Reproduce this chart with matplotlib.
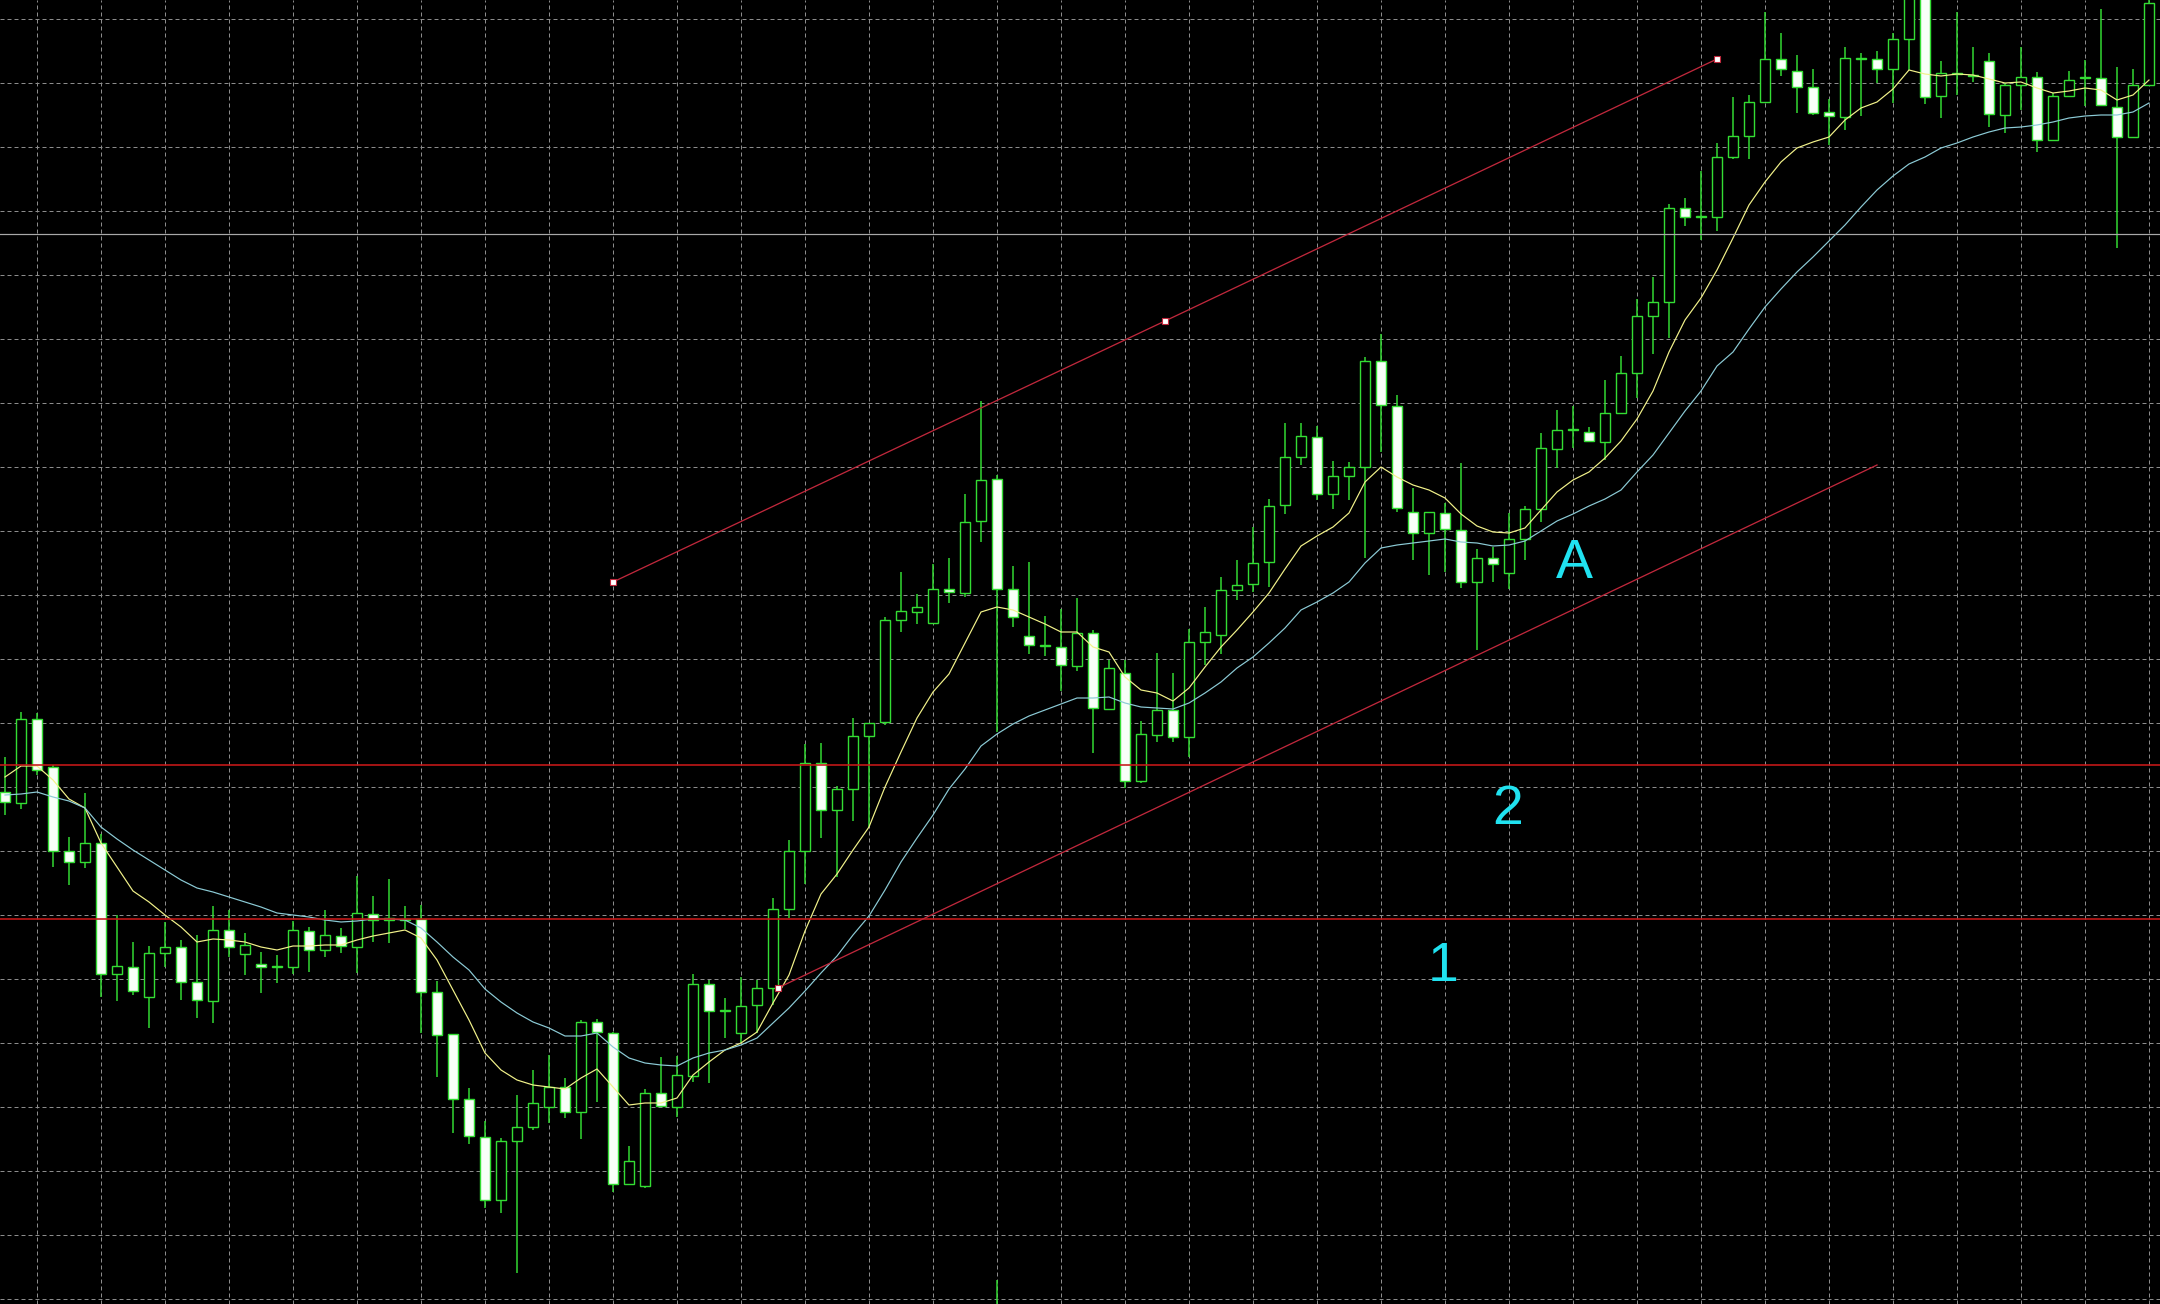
import matplotlib
matplotlib.use("Agg")
import matplotlib.pyplot as plt
import numpy as np

# price in points; one candle per bar index
opens = [507, 496, 580, 532, 448, 437, 456, 325, 332, 302,
         346, 352, 317, 298, 369, 345, 335, 332, 332, 368,
         349, 363, 352, 385, 379, 380, 380, 307, 265, 200,
         162, 99, 158, 172, 192, 212, 187, 277, 266, 115,
         113, 206, 192, 223, 315, 288, 266, 294, 311, 390,
         448, 536, 489, 510, 563, 577, 679, 687, 676, 710,
         706, 778, 820, 710, 663, 653, 652, 633, 666, 590,
         626, 518, 564, 589, 562, 657, 664, 709, 715, 737,
         794, 842, 862, 805, 823, 832, 938, 893, 787, 766,
         786, 769, 717, 741, 726, 760, 790, 850, 869, 867,
         857, 886, 926, 983, 997, 1091, 1082, 1082, 1142, 1163,
         1197, 1240, 1228, 1212, 1187, 1182, 1240, 1240, 1230, 1260,
         1304, 1203, 1225, 1223, 1238, 1184, 1214, 1222, 1159, 1203,
         1221, 1221, 1192, 1162, 1214]
highs = [542, 587, 586, 534, 462, 506, 465, 384, 357, 353,
         377, 359, 364, 393, 389, 366, 347, 344, 378, 372,
         389, 371, 423, 403, 420, 393, 394, 318, 265, 211,
         178, 161, 204, 229, 244, 221, 279, 280, 267, 153,
         210, 242, 243, 325, 319, 301, 322, 319, 401, 459,
         555, 556, 513, 581, 576, 682, 727, 705, 735, 741,
         805, 898, 824, 733, 737, 683, 690, 701, 669, 639,
         639, 578, 646, 626, 670, 692, 722, 739, 772, 800,
         876, 876, 873, 838, 837, 942, 965, 904, 811, 787,
         796, 836, 750, 752, 786, 793, 866, 889, 893, 872,
         919, 943, 1000, 1022, 1095, 1101, 1128, 1156, 1202, 1204,
         1287, 1266, 1244, 1230, 1200, 1252, 1246, 1248, 1266, 1319,
         1309, 1238, 1287, 1252, 1246, 1216, 1252, 1227, 1206, 1228,
         1239, 1290, 1232, 1230, 1309]
lows = [484, 490, 524, 432, 414, 431, 302, 298, 304, 271,
        332, 299, 281, 276, 342, 324, 306, 316, 325, 327,
        342, 346, 326, 357, 356, 370, 266, 222, 166, 155,
        91, 86, 26, 169, 176, 181, 160, 197, 107, 115,
        111, 192, 182, 217, 216, 261, 256, 266, 294, 381,
        415, 461, 422, 478, 472, 574, 667, 675, 676, 696,
        702, 757, 567, 672, 645, 643, 608, 628, 546, 589,
        511, 516, 557, 557, 542, 634, 645, 699, 707, 712,
        785, 834, 799, 790, 799, 741, 847, 787, 739, 724,
        727, 711, 649, 717, 710, 739, 777, 831, 851, 858,
        839, 885, 901, 945, 961, 1073, 1059, 1068, 1140, 1140,
        1197, 1223, 1186, 1184, 1154, 1169, 1183, 1216, 1196, 1229,
        1195, 1181, 1204, 1217, 1172, 1166, 1189, 1147, 1159, 1202,
        1193, 1193, 1051, 1162, 1214]
closes = [497, 580, 529, 448, 437, 456, 325, 333, 308, 346,
          352, 317, 299, 369, 352, 354, 332, 333, 369, 349,
          364, 353, 386, 379, 381, 379, 307, 264, 200, 163,
          99, 158, 172, 196, 212, 187, 277, 267, 115, 138,
          206, 193, 224, 315, 288, 289, 293, 311, 390, 448,
          536, 489, 510, 563, 576, 679, 688, 692, 710, 707,
          777, 819, 710, 682, 654, 654, 634, 666, 591, 631,
          518, 565, 589, 562, 657, 667, 709, 714, 736, 793,
          842, 863, 805, 823, 832, 938, 894, 791, 766, 787,
          770, 717, 741, 735, 760, 790, 851, 869, 870, 858,
          886, 926, 983, 997, 1091, 1082, 1083, 1142, 1163, 1197,
          1240, 1230, 1212, 1186, 1183, 1241, 1241, 1230, 1260, 1304,
          1202, 1226, 1226, 1224, 1185, 1214, 1222, 1159, 1203, 1219,
          1222, 1194, 1162, 1214, 1296]

# moving averages
ma_fast = [522, 533, 533, 519, 500, 491, 456, 432, 408, 397,
           384, 372, 357, 360, 359, 357, 352, 349, 353, 353,
           354, 354, 359, 363, 366, 369, 361, 339, 309, 279,
           246, 229, 219, 214, 212, 210, 221, 230, 212, 194,
           196, 196, 201, 224, 237, 249, 256, 267, 296, 324,
           368, 405, 425, 449, 472, 512, 547, 581, 607, 625,
           656, 687, 692, 689, 682, 675, 667, 667, 652, 647,
           622, 609, 606, 598, 611, 632, 652, 669, 687, 706,
           730, 753, 763, 772, 786, 817, 832, 822, 814, 809,
           801, 785, 773, 767, 766, 771, 789, 807, 819, 827,
           841, 858, 880, 908, 947, 979, 1001, 1029, 1061, 1094,
           1117, 1137, 1151, 1157, 1162, 1179, 1191, 1197, 1210, 1229,
           1225, 1223, 1225, 1224, 1220, 1216, 1217, 1211, 1206, 1208,
           1211, 1209, 1199, 1204, 1219]
ma_slow = [504, 505, 507, 502, 498, 491, 472, 460, 449, 439,
           429, 419, 411, 407, 402, 397, 392, 386, 384, 382,
           379, 377, 378, 380, 380, 379, 371, 357, 342, 329,
           310, 297, 286, 277, 271, 263, 263, 266, 252, 241,
           236, 234, 233, 241, 246, 249, 254, 261, 276, 291,
           308, 326, 343, 364, 383, 409, 437, 461, 484, 510,
           530, 553, 565, 575, 583, 589, 595, 601, 601, 602,
           596, 592, 591, 590, 596, 606, 617, 631, 642, 656,
           671, 689, 697, 706, 717, 736, 751, 754, 756, 758,
           760, 757, 756, 753, 754, 758, 768, 778, 785, 793,
           800, 809, 827, 844, 866, 888, 908, 933, 947, 970,
           992, 1010, 1027, 1042, 1058, 1074, 1092, 1109, 1123, 1135,
           1142, 1151, 1156, 1162, 1167, 1171, 1172, 1174, 1177, 1181,
           1183, 1184, 1184, 1187, 1196]

# drawn objects
level_lines = [534, 380]
grey_level = 1065
upper_trend_x = [38.0, 72.5, 107.0]
upper_trend_y = [717, 978, 1240]
lower_trend_x = [48.3, 117.0]
lower_trend_y = [311, 834]
labels = ["A", "2", "1"]
label_x = [98.1, 93.9, 89.9]
label_y = [735, 489, 332]
stray_x = [62]
stray_top = [19]

green = "#33dd33"
px = 0.72

fig = plt.figure(figsize=(21.6, 13.04), dpi=100, facecolor="black")
ax = fig.add_axes([0, 0, 1, 1])
ax.set_facecolor("black")
ax.set_xlim(-0.3125, 134.6875)
ax.set_ylim(-5, 1299)
ax.axis("off")

# dashed grid
for gx in np.arange(2, 135, 4):
    ax.axvline(gx, color="#8c8c8c", lw=px, ls=(0, (4, 3)), zorder=1)
for gy in np.arange(0, 1300, 64):
    ax.axhline(gy, color="#8c8c8c", lw=px, ls=(0, (4, 3)), zorder=1)

o = np.array(opens)
c = np.array(closes)
x = np.arange(len(o))

ax.vlines(x, lows, highs, color=green, lw=1.5 * px, zorder=3)
ax.vlines(stray_x, -5, stray_top, color=green, lw=1.5 * px, zorder=3)
fills = np.where(c < o, "#f8fff8", "black")
ax.bar(x, c - o, bottom=o, width=0.62, color=fills, edgecolor=green,
       linewidth=1.4 * px, zorder=4)

ax.plot(x, ma_fast, color="#f2f28a", lw=1.2 * px, zorder=5)
ax.plot(x, ma_slow, color="#8ccbd6", lw=1.2 * px, zorder=5)

for lv in level_lines:
    ax.axhline(lv, color="#c81818", lw=1.6 * px, zorder=6)
ax.axhline(grey_level, color="#a8a8a8", lw=1.2 * px, zorder=6)

ax.plot(upper_trend_x, upper_trend_y, color="#c0283c", lw=1.3 * px, zorder=6)
ax.plot(lower_trend_x, lower_trend_y, color="#c0283c", lw=1.3 * px, zorder=6)
ax.plot(upper_trend_x, upper_trend_y, ls="none", marker="s", ms=4,
        mfc="white", mec="#c0283c", mew=0.8, zorder=7)
ax.plot(lower_trend_x[:1], lower_trend_y[:1], ls="none", marker="s", ms=4,
        mfc="white", mec="#c0283c", mew=0.8, zorder=7)

for t, lx, ly in zip(labels, label_x, label_y):
    ax.text(lx, ly, t, color="#20e2f0", fontsize=40, family="Liberation Sans",
            ha="center", va="center", zorder=8)

fig.savefig("out.png", dpi=100, facecolor="black")
